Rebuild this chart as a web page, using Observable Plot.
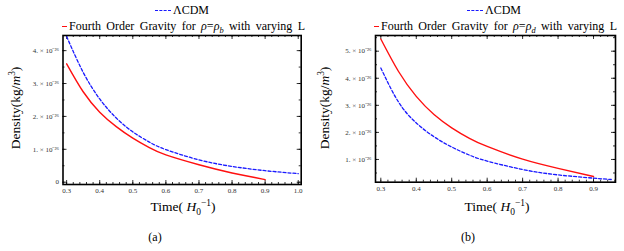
<!DOCTYPE html>
<html><head><meta charset="utf-8">
<script src="https://cdn.jsdelivr.net/npm/d3@7"></script>
<script src="https://cdn.jsdelivr.net/npm/@observablehq/plot@0.6"></script>
<style>
body{margin:0;background:#fff;font-family:"Liberation Serif","DejaVu Serif",serif;color:#000}
#wrap{position:relative;width:624px;height:251px;overflow:hidden;background:#fff}
.panel{position:absolute;top:0;width:312px;height:251px}
.panel svg{position:absolute;left:0;top:0}
.t{position:absolute;white-space:nowrap;line-height:1}
.c{transform:translate(-50%,-50%)}
.rot{transform:translate(-50%,-50%) rotate(-90deg)}
.dashB{position:absolute;height:0;border-top:1.3px dashed #1a1aff}
.solR{position:absolute;height:0;border-top:1.5px solid #ff1010}
.just{text-align:justify;text-align-last:justify}
sub,sup{font-size:70%;line-height:0}
</style></head>
<body><div id="wrap"></div>
<script>
// ---- data (density in units of 1e-26 kg/m^3, time in 1/H0) ----
const timeA_LCDM = [0.30,0.35,0.40,0.45,0.50,0.55,0.60,0.70,0.80,0.90,1.00];
const densA_LCDM = [4.43,3.34,2.53,1.95,1.53,1.22,0.99,0.68,0.48,0.35,0.26];
const timeA_FOG  = [0.30,0.35,0.40,0.45,0.50,0.55,0.60,0.70,0.80,0.90];
const densA_FOG  = [3.60,2.75,2.13,1.69,1.34,1.05,0.83,0.53,0.28,0.08];

const timeB_LCDM = [0.30,0.35,0.40,0.45,0.50,0.55,0.60,0.70,0.80,0.90,0.95];
const densB_LCDM = [4.38,3.12,2.35,1.84,1.46,1.16,0.94,0.63,0.43,0.31,0.26];
const timeB_FOG  = [0.30,0.35,0.40,0.45,0.50,0.55,0.60,0.70,0.80,0.90];
const densB_FOG  = [5.45,4.25,3.33,2.66,2.17,1.78,1.48,1.01,0.67,0.37];

const xTicksA = [0.3,0.4,0.5,0.6,0.7,0.8,0.9,1.0];
const xLabelsA = ["0.3","0.4","0.5","0.6","0.7","0.8","0.9","1.0"];
const xTicksB = [0.3,0.4,0.5,0.6,0.7,0.8,0.9];
const xLabelsB = ["0.3","0.4","0.5","0.6","0.7","0.8","0.9"];
const yTicksA = [0,1,2,3,4];
const yLabelsA = ["0","1. × 10⁻²⁶","2. × 10⁻²⁶","3. × 10⁻²⁶","4. × 10⁻²⁶"];
const yTicksB = [1,2,3,4,5];
const yLabelsB = ["1. × 10⁻²⁶","2. × 10⁻²⁶","3. × 10⁻²⁶","4. × 10⁻²⁶","5. × 10⁻²⁶"];

const legendLCDM = "ΛCDM";
const legendFOG_A = 'Fourth Order Gravity for <i>ρ</i>=<i>ρ</i><sub><i>b</i></sub> with varying L';
const legendFOG_B = 'Fourth Order Gravity for <i>ρ</i>=<i>ρ</i><sub><i>d</i></sub> with varying L';
const yTitle = 'Density(kg/<i>m</i><sup>3</sup>)';
const xTitle = 'Time( <i>H</i><sub>0</sub><sup>−1</sup>)';

function lab(ticks, labels){ return d => { const i = ticks.findIndex(t => Math.abs(t - d) < 1e-9); return i < 0 ? "" : labels[i]; }; }

function makePanel(o){
  const W = 312, H = 251;
  const fw = W - o.ml - o.mr, fh = H - o.mt - o.mb;
  const lcdm = o.tL.map((t,i) => ({t, v: o.vL[i]}));
  const fog = o.tF.map((t,i) => ({t, v: o.vF[i]}));
  const xMinor = d3.range(Math.ceil(o.xd[0]/0.02), Math.floor(o.xd[1]/0.02)+1).map(k => k*0.02);
  const yMinor = d3.range(Math.ceil(o.yd[0]/0.5), Math.floor(o.yd[1]/0.5)+1).map(k => k*0.5);
  const tick = {stroke:"black", strokeWidth:0.8};
  return Plot.plot({
    width: W, height: H,
    marginLeft: o.ml, marginRight: o.mr, marginTop: o.mt, marginBottom: o.mb,
    x: {domain: o.xd, label: null}, y: {domain: o.yd, label: null},
    style: {fontFamily: '"Liberation Serif", serif', fontSize: "7px", color: "#333", background: "transparent", overflow: "visible"},
    marks: [
      Plot.axisX(o.xt, {tickSize: 0, tickPadding: 4, tickFormat: lab(o.xt, o.xl), fontSize: 7, fill: "#333", label: null}),
      Plot.axisY(o.yt, {tickSize: 0, tickPadding: 4, tickFormat: lab(o.yt, o.yl), fontSize: 7, fill: "#333", label: null}),
      Plot.tickX(xMinor, {x: d => d, insetTop: fh - 2, ...tick}),
      Plot.tickX(o.xt, {x: d => d, insetTop: fh - 4, ...tick}),
      Plot.tickX(xMinor, {x: d => d, insetBottom: fh - 2, ...tick}),
      Plot.tickX(o.xt, {x: d => d, insetBottom: fh - 4, ...tick}),
      Plot.tickY(yMinor, {y: d => d, insetRight: fw - 2, ...tick}),
      Plot.tickY(o.yt, {y: d => d, insetRight: fw - 4, ...tick}),
      Plot.tickY(yMinor, {y: d => d, insetLeft: fw - 2, ...tick}),
      Plot.tickY(o.yt, {y: d => d, insetLeft: fw - 4, ...tick}),
      Plot.line(fog, {x: "t", y: "v", stroke: "#ff1010", strokeWidth: 1.4, curve: "natural", clip: true}),
      Plot.line(lcdm, {x: "t", y: "v", stroke: "#1a1aff", strokeWidth: 1.3, strokeDasharray: "3,2", curve: "natural", clip: true}),
      Plot.frame({stroke: "black", strokeWidth: 1.6})
    ]
  });
}

function addPanel(left, o, ov){
  const div = document.createElement("div");
  div.className = "panel"; div.style.left = left + "px";
  div.appendChild(makePanel(o));
  div.insertAdjacentHTML("beforeend", `
    <div class="dashB" style="left:155px;top:10px;width:16px"></div>
    <div class="t" style="left:173px;top:4px;font-size:12px">${legendLCDM}</div>
    <div class="solR" style="left:62px;top:26px;width:5px"></div>
    <div class="t just" style="left:69px;top:20px;width:236px;font-size:12px">${ov.fog}</div>
    <div class="t rot" style="left:${ov.yx}px;top:108px;font-size:13.5px">${yTitle}</div>
    <div class="t c" style="left:${ov.xx}px;top:207px;font-size:13.5px">${xTitle}</div>
    <div class="t c" style="left:${ov.cx}px;top:237px;font-size:12px">${ov.cap}</div>
  `);
  document.getElementById("wrap").appendChild(div);
}

addPanel(0, {tL: timeA_LCDM, vL: densA_LCDM, tF: timeA_FOG, vF: densA_FOG,
  xd: [0.289, 1.009], yd: [-0.07, 4.46], xt: xTicksA, xl: xLabelsA, yt: yTicksA, yl: yLabelsA,
  ml: 62.5, mr: 11.3, mt: 35, mb: 67}, {fog: legendFOG_A, yx: 16, xx: 183, cx: 155, cap: "(a)"});
addPanel(312, {tL: timeB_LCDM, vL: densB_LCDM, tF: timeB_FOG, vF: densB_FOG,
  xd: [0.285, 0.962], yd: [0.16, 5.58], xt: xTicksB, xl: xLabelsB, yt: yTicksB, yl: yLabelsB,
  ml: 63, mr: 9, mt: 35, mb: 69.3}, {fog: legendFOG_B, yx: 13, xx: 185, cx: 156, cap: "(b)"});
</script></body></html>
